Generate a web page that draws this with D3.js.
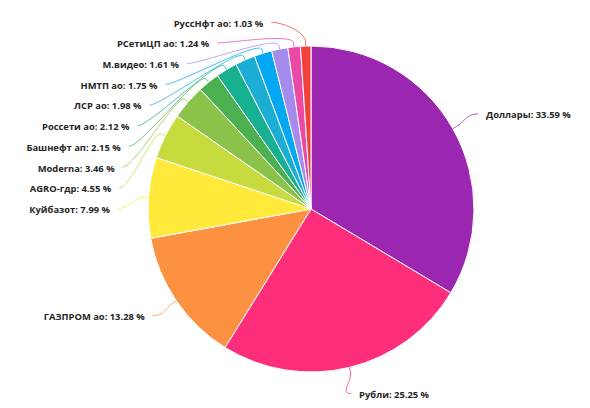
<!DOCTYPE html>
<html>
<head>
<meta charset="utf-8">
<script src="https://cdn.jsdelivr.net/npm/d3@7"></script>
<style>
  html, body { margin: 0; padding: 0; background: #fff; }
  svg { display: block; }
  text { font-family: "Open Sans", "Noto Sans", sans-serif; font-weight: 700; }
</style>
</head>
<body>
<svg id="chart" width="590" height="408"></svg>
<script>
const categories = ["Доллары", "Рубли", "ГАЗПРОМ ао", "Куйбазот", "AGRO-гдр", "Moderna", "Башнефт ап", "Россети ао", "ЛСР ао", "НМТП ао", "М.видео", "РСетиЦП ао", "РуссНфт ао"];
const shares = [33.59, 25.25, 13.28, 7.99, 4.55, 3.46, 2.15, 2.12, 1.98, 1.75, 1.61, 1.24, 1.03];
const colors = ["#9b27b0", "#ff2e7a", "#fc9142", "#ffea3b", "#c8db3e", "#8bc34a", "#4caf50", "#17b091", "#1badd3", "#04a8f2", "#a68bef", "#ea4aa5", "#f2413a"];

const svg = d3.select("#chart");
const cx = 311, cy = 209, R = 163;
const ea = 200, eb = 191;   // label ellipse
const spacing = 20.7, topMin = 23.3;

const data = categories.map((c, i) => ({ name: c, value: shares[i], color: colors[i] }));
const pie = d3.pie().value(d => d.value).sort(null);
const arcs = pie(data);
const arcGen = d3.arc().innerRadius(0).outerRadius(R);

const g = svg.append("g").attr("transform", `translate(${cx},${cy})`);

g.selectAll("path.slice").data(arcs).join("path")
  .attr("class", "slice")
  .attr("d", arcGen)
  .attr("fill", d => d.data.color)
  .attr("stroke", "#fff")
  .attr("stroke-width", 1);

// label layout
const items = arcs.map(a => {
  const mid = (a.startAngle + a.endAngle) / 2;
  return { a, mid, side: Math.sin(mid) >= 0 ? 1 : -1, y: -eb * Math.cos(mid) };
});
function layout(list) {
  list.sort((p, q) => p.y - q.y);
  let prev = -Infinity;
  list.forEach((it, i) => {
    let y = Math.max(it.y, prev + spacing);
    if (i === 0) y = Math.max(y, topMin - cy);
    it.ly = y; prev = y;
  });
}
layout(items.filter(d => d.side < 0));
layout(items.filter(d => d.side > 0));
items.forEach(it => {
  const t = Math.max(0, 1 - (it.ly / eb) ** 2);
  it.lx = it.side * (ea * Math.sqrt(t) + 1);
});

const lineGen = it => {
  const ax = R * Math.sin(it.mid), ay = -R * Math.cos(it.mid);
  const bx = (R + 4) * Math.sin(it.mid), by = -(R + 4) * Math.cos(it.mid);
  const ex = it.lx + it.side * -8, ey = it.ly - 1;
  const c1x = (R + 14) * Math.sin(it.mid), c1y = -(R + 14) * Math.cos(it.mid);
  const c2x = ex - it.side * 12, c2y = ey;
  return `M${ax},${ay}L${bx},${by}C${c1x},${c1y} ${c2x},${c2y} ${ex},${ey}`;
};

g.selectAll("path.tick").data(items).join("path")
  .attr("class", "tick")
  .attr("d", lineGen)
  .attr("fill", "none")
  .attr("stroke", d => d.a.data.color)
  .attr("stroke-opacity", 0.75)
  .attr("stroke-width", 1);

g.selectAll("text.lbl").data(items).join("text")
  .attr("class", "lbl")
  .attr("x", d => d.lx)
  .attr("y", d => d.ly)
  .attr("dy", "0.35em")
  .attr("text-anchor", d => d.side < 0 ? "end" : "start")
  .attr("font-size", 9.4)
  .attr("fill", "#262626")
  .text(d => `${d.a.data.name}: ${d.a.data.value.toFixed(2)} %`);
</script>
</body>
</html>
